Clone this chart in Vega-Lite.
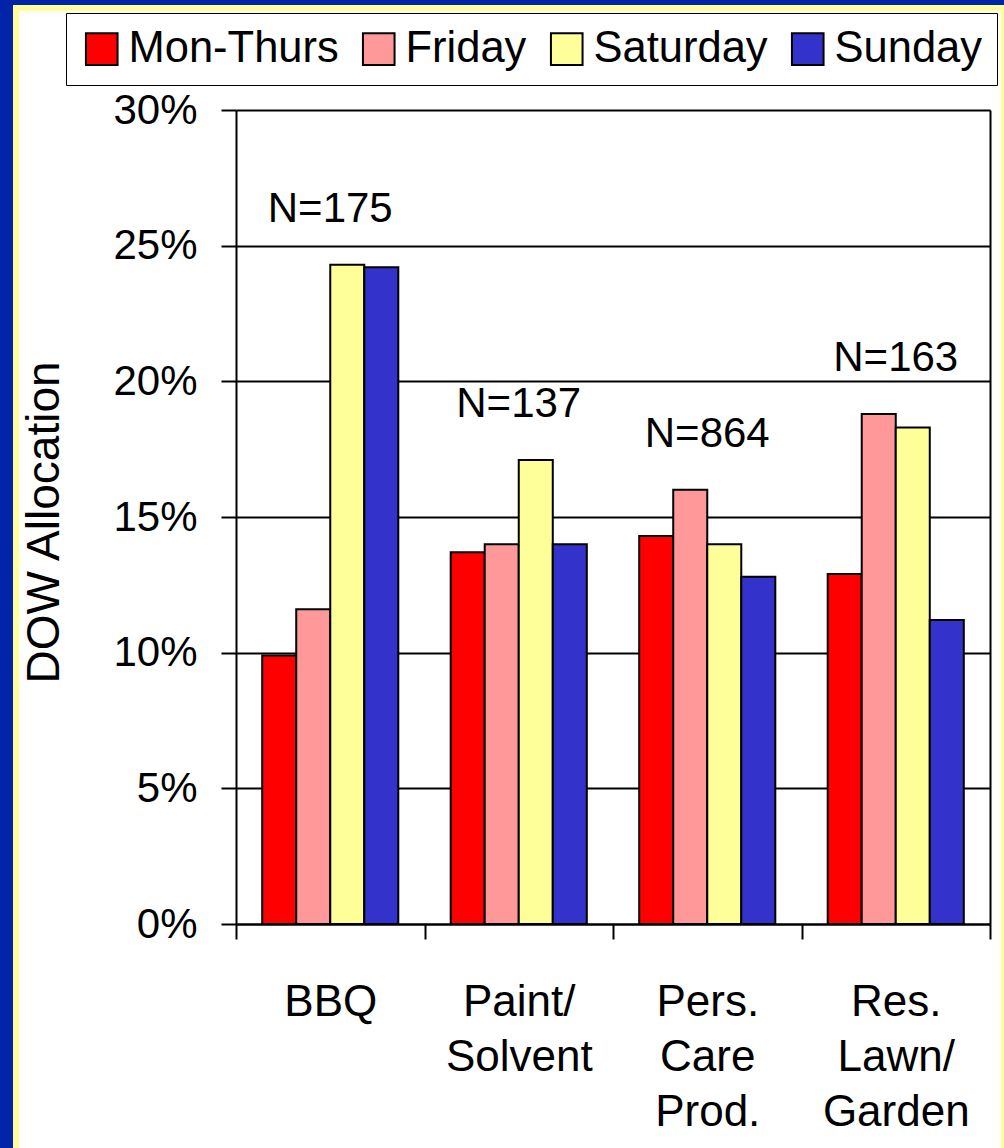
{
  "$schema": "https://vega.github.io/schema/vega-lite/v6.json",
  "autosize": {"type": "none"},
  "width": 988,
  "height": 1146,
  "padding": {"left": 16, "top": 8, "right": 0, "bottom": -6},
  "background": "#0024A8",
  "config": {
    "font": "Liberation Sans",
    "view": {"fill": "white", "stroke": "#FFFF99", "strokeWidth": 6},
    "axis": {
      "domainColor": "black",
      "domainWidth": 2,
      "tickColor": "black",
      "tickWidth": 2,
      "gridColor": "black",
      "gridWidth": 2,
      "gridOpacity": 1,
      "labelColor": "black",
      "titleColor": "black",
      "labelFont": "Liberation Sans",
      "titleFont": "Liberation Sans",
      "titleFontWeight": "normal"
    },
    "legend": {
      "labelFont": "Liberation Sans"
    }
  },
  "data": {
    "values": [
      {"category": "BBQ", "day": "Mon-Thurs", "share": 0.099, "n": 175},
      {"category": "BBQ", "day": "Friday", "share": 0.116, "n": 175},
      {"category": "BBQ", "day": "Saturday", "share": 0.243, "n": 175},
      {"category": "BBQ", "day": "Sunday", "share": 0.242, "n": 175},
      {"category": "Paint/Solvent", "day": "Mon-Thurs", "share": 0.137, "n": 137},
      {"category": "Paint/Solvent", "day": "Friday", "share": 0.140, "n": 137},
      {"category": "Paint/Solvent", "day": "Saturday", "share": 0.171, "n": 137},
      {"category": "Paint/Solvent", "day": "Sunday", "share": 0.140, "n": 137},
      {"category": "Pers. Care Prod.", "day": "Mon-Thurs", "share": 0.143, "n": 864},
      {"category": "Pers. Care Prod.", "day": "Friday", "share": 0.160, "n": 864},
      {"category": "Pers. Care Prod.", "day": "Saturday", "share": 0.140, "n": 864},
      {"category": "Pers. Care Prod.", "day": "Sunday", "share": 0.128, "n": 864},
      {"category": "Res. Lawn/Garden", "day": "Mon-Thurs", "share": 0.129, "n": 163},
      {"category": "Res. Lawn/Garden", "day": "Friday", "share": 0.188, "n": 163},
      {"category": "Res. Lawn/Garden", "day": "Saturday", "share": 0.183, "n": 163},
      {"category": "Res. Lawn/Garden", "day": "Sunday", "share": 0.112, "n": 163}
    ]
  },
  "layer": [
    {
      "mark": {"type": "bar", "stroke": "black", "strokeWidth": 2},
      "encoding": {
        "x": {
          "field": "category",
          "type": "nominal",
          "sort": ["BBQ", "Paint/Solvent", "Pers. Care Prod.", "Res. Lawn/Garden"],
          "scale": {"range": [220, 974], "paddingInner": 0, "paddingOuter": 0},
          "axis": {
            "title": null,
            "orient": "bottom",
            "offset": -230,
            "labelAngle": 0,
            "labelFontSize": 44,
            "labelLineHeight": 55,
            "labelBaseline": "top",
            "labelPadding": 41,
            "labelExpr": "split(replace(datum.label, '/', '/ '), ' ')",
            "tickSize": 15,
            "tickBand": "extent",
            "grid": false
          }
        },
        "xOffset": {
          "field": "day",
          "type": "nominal",
          "sort": ["Mon-Thurs", "Friday", "Saturday", "Sunday"],
          "scale": {"paddingInner": 0, "paddingOuter": 0.77}
        },
        "y": {
          "field": "share",
          "type": "quantitative",
          "scale": {"domain": [0, 0.3], "range": [916, 102], "nice": false},
          "axis": {
            "orient": "left",
            "offset": -220,
            "values": [0, 0.05, 0.1, 0.15, 0.2, 0.25, 0.3],
            "format": ".0%",
            "labelFontSize": 42,
            "labelPadding": 24,
            "tickSize": 15,
            "grid": true,
            "title": "DOW Allocation",
            "titleFontSize": 46,
            "titleAngle": -90,
            "titleAlign": "center",
            "titleBaseline": "middle",
            "titleX": -192,
            "titleY": 514
          }
        },
        "color": {
          "field": "day",
          "type": "nominal",
          "scale": {
            "domain": ["Mon-Thurs", "Friday", "Saturday", "Sunday"],
            "range": ["#FF0000", "#FF9999", "#FFFF99", "#3333CC"]
          },
          "legend": {
            "title": null,
            "orient": "none",
            "legendX": 50,
            "legendY": 5,
            "direction": "horizontal",
            "columns": 4,
            "symbolType": "square",
            "symbolSize": 1000,
            "symbolStrokeColor": "black",
            "symbolStrokeWidth": 2,
            "symbolOpacity": 1,
            "labelFontSize": 43.5,
            "labelColor": "black",
            "labelLimit": 0,
            "labelOffset": 5,
            "columnPadding": 18,
            "padding": 14,
            "fillColor": "white",
            "strokeColor": "black"
          }
        }
      }
    },
    {
      "transform": [
        {
          "aggregate": [
            {"op": "max", "field": "share", "as": "peak"},
            {"op": "max", "field": "n", "as": "n"}
          ],
          "groupby": ["category"]
        },
        {"calculate": "'N=' + datum.n", "as": "label"}
      ],
      "mark": {"type": "text", "fontSize": 42, "dy": -56, "baseline": "middle", "color": "black"},
      "encoding": {
        "x": {"field": "category", "type": "nominal", "sort": ["BBQ", "Paint/Solvent", "Pers. Care Prod.", "Res. Lawn/Garden"]},
        "y": {
          "field": "peak",
          "type": "quantitative",
          "axis": {
            "orient": "right",
            "offset": -14,
            "labels": false,
            "ticks": false,
            "grid": false,
            "domain": true,
            "title": null
          }
        },
        "text": {"field": "label"}
      }
    }
  ],
  "resolve": {"axis": {"y": "independent"}}
}
